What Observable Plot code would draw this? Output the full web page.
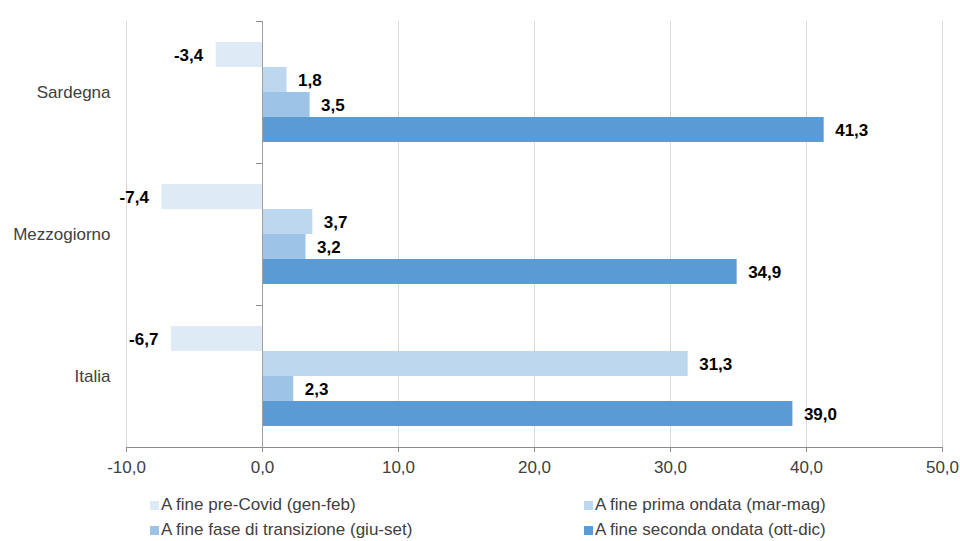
<!DOCTYPE html>
<html lang="it">
<head>
<meta charset="utf-8">
<script src="https://cdn.jsdelivr.net/npm/d3@7"></script>
<script src="https://cdn.jsdelivr.net/npm/@observablehq/plot@0.6"></script>
<style>
  html, body { margin: 0; padding: 0; background: #fff; }
  body { width: 960px; height: 541px; overflow: hidden; font-family: "Liberation Sans", Arial, sans-serif; }
  #legend { position: relative; height: 51px; }
  .item { position: absolute; display: flex; align-items: center; height: 18px; font-size: 17px; line-height: 18px; color: #404040; white-space: nowrap; }
  .swatch { width: 9px; height: 9px; margin-right: 2px; }
</style>
</head>
<body>
<div id="chart"></div>
<div id="legend"></div>
<script>
// Regions (one facet each) and the four periods (one bar each)
const regions = ["Sardegna", "Mezzogiorno", "Italia"];
const series = [
  "A fine pre-Covid (gen-feb)",
  "A fine prima ondata (mar-mag)",
  "A fine fase di transizione (giu-set)",
  "A fine seconda ondata (ott-dic)"
];
const colors = ["#deebf7", "#bdd7ee", "#9dc3e6", "#5b9bd5"];

// Percentage change per region, in period order
const sardegna = [-3.4, 1.8, 3.5, 41.3];
const mezzogiorno = [-7.4, 3.7, 3.2, 34.9];
const italia = [-6.7, 31.3, 2.3, 39.0];

const xTicks = [-10, 0, 10, 20, 30, 40, 50];

const byRegion = {Sardegna: sardegna, Mezzogiorno: mezzogiorno, Italia: italia};
const rows = regions.flatMap(r => series.map((s, i) => ({region: r, series: s, value: byRegion[r][i]})));

const fmt = v => v.toFixed(1).replace(".", ",");

const plot = Plot.plot({
  width: 960,
  height: 490,
  marginTop: 20,
  marginBottom: 43,
  marginLeft: 126,
  marginRight: 18,
  style: {fontFamily: "'Liberation Sans', Arial, sans-serif", fontSize: "17px", background: "#fff"},
  x: {domain: [-10, 50], label: null},
  y: {domain: series, paddingInner: 0, paddingOuter: 0.76, axis: null},
  fy: {domain: regions, padding: 0, label: null},
  color: {domain: series, range: colors},
  marks: [
    Plot.gridX(xTicks.filter(t => t !== 0), {stroke: "#d9d9d9", strokeOpacity: 1}),
    Plot.barX(rows, {x1: 0, x2: "value", y: "series", fy: "region", fill: "series"}),
    Plot.ruleX([0], {stroke: "#a0a0a0"}),
    Plot.text(rows.filter(d => d.value >= 0), {
      x: "value", y: "series", fy: "region", text: d => fmt(d.value),
      textAnchor: "start", dx: 11, dy: 1, fontWeight: "bold", fill: "#000"
    }),
    Plot.text(rows.filter(d => d.value < 0), {
      x: "value", y: "series", fy: "region", text: d => fmt(d.value),
      textAnchor: "end", dx: -13, dy: 1, fontWeight: "bold", fill: "#000"
    }),
    Plot.frame({anchor: "bottom", stroke: "#8c8c8c", facetAnchor: "bottom"}),
    Plot.axisX({
      anchor: "bottom", ticks: xTicks, tickFormat: fmt, tickSize: 5, tickPadding: 8,
      stroke: "#8c8c8c", fill: "#404040", label: null
    }),
    Plot.axisFy({anchor: "left", tickSize: 0, tickPadding: 16, fill: "#404040", label: null})
  ]
});

document.getElementById("chart").append(plot);

// Small ticks on the zero axis marking the boundary between regions
const fyScale = plot.scale("fy");
const xScale = plot.scale("x");
const x0 = xScale.apply(0);
d3.select(plot).append("g")
  .attr("stroke", "#8c8c8c")
  .selectAll("line")
  .data(regions)
  .join("line")
  .attr("x1", x0 - 6)
  .attr("x2", x0)
  .attr("y1", r => fyScale.apply(r) + 0.5)
  .attr("y2", r => fyScale.apply(r) + 0.5);

// Legend: two columns, two rows
const legend = document.getElementById("legend");
const colLeft = [150, 584];
const rowTop = [6, 31];
series.forEach((s, i) => {
  const item = document.createElement("div");
  item.className = "item";
  item.style.left = colLeft[i % 2] + "px";
  item.style.top = rowTop[Math.floor(i / 2)] + "px";
  const sw = document.createElement("span");
  sw.className = "swatch";
  sw.style.background = colors[i];
  const label = document.createElement("span");
  label.textContent = s;
  item.append(sw, label);
  legend.append(item);
});
</script>
</body>
</html>
